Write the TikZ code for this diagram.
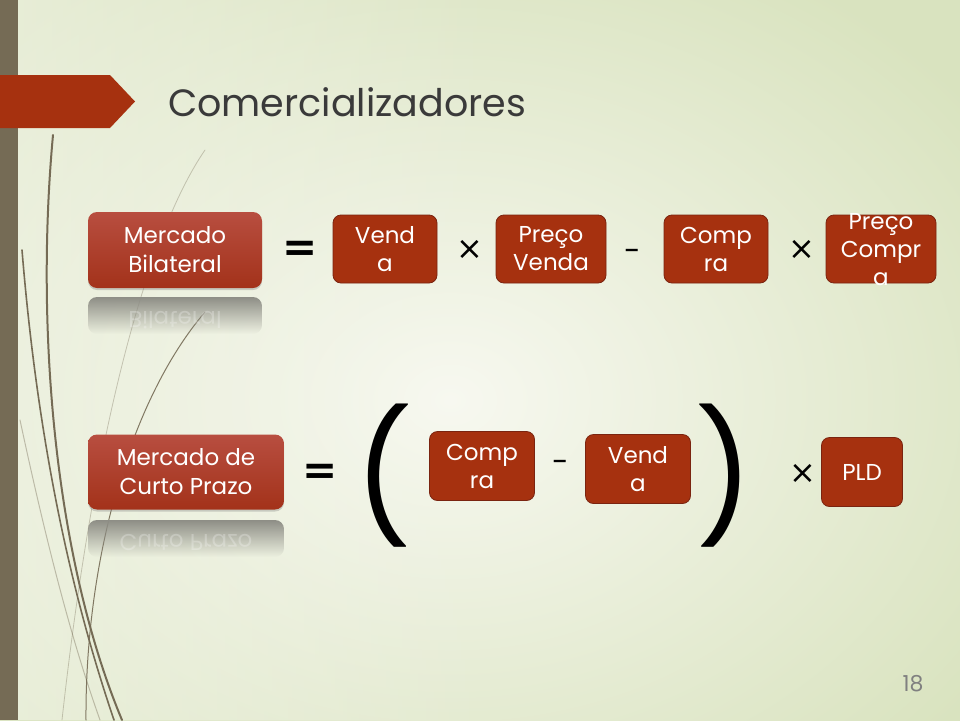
\documentclass[tikz,border=0pt]{standalone}
\usepackage{fontspec}
\setmainfont{Poppins}
\newfontfamily\symf{DejaVu Sans}
\usetikzlibrary{fadings,shadows}
\definecolor{bandc}{HTML}{756B55}
\definecolor{redc}{HTML}{A6310F}
\definecolor{redline}{HTML}{7A2410}
\definecolor{redtop}{HTML}{B84E40}
\definecolor{redbot}{HTML}{A3321A}
\definecolor{bgA}{HTML}{F7F8F0}
\definecolor{bgB}{HTML}{D9E3BF}
\definecolor{titlec}{HTML}{3A3A3A}
\definecolor{reflc}{HTML}{8E8E86}
\tikzset{
  eqbox/.style={rounded corners=8pt, fill=redc, draw=redline, line width=0.8pt,
    text=white, align=center, inner sep=0pt,
    font=\fontsize{23}{28}\selectfont},
  leftbox/.style={rounded corners=9pt, top color=redtop, bottom color=redbot,
    draw=none, text=white, align=center, inner sep=0pt,
    drop shadow={shadow xshift=0pt, shadow yshift=-2pt, opacity=0.35},
    font=\fontsize{23}{29}\selectfont},
  opsym/.style={inner sep=0pt, text=black},
  deco/.style={draw=bandc, line cap=round}
}
\begin{document}
\begin{tikzpicture}[x=1pt,y=-1pt]
\useasboundingbox (0,0) rectangle (960,720);
% background
\fill[inner color=bgA, outer color=bgB] (-200,-100) rectangle (1100,900);
\fill[bgA, opacity=0.5, path fading=east] (0,0) rectangle (500,720);
% decorative curves
\draw[deco, line width=2pt] (53,135) .. controls (35,330) and (55,560) .. (122,720);
\draw[deco, line width=1.6pt] (22,250) .. controls (40,470) and (80,620) .. (114,720);
\draw[deco, line width=1pt, opacity=0.9] (205,312) .. controls (130,400) and (85,560) .. (86,720);
\draw[deco, line width=0.8pt, opacity=0.35] (205,150) .. controls (150,230) and (95,420) .. (62,720);
\draw[deco, line width=1pt, opacity=0.4] (20,420) .. controls (50,560) and (75,650) .. (100,720);
% left band
\fill[bandc] (0,0) rectangle (18,720);
% title banner
\fill[redc] (0,75) -- (110,75) -- (135,101.5) -- (110,128) -- (0,128) -- cycle;
\node[anchor=west, text=titlec, font=\fontsize{38}{40}\selectfont, inner sep=0pt] (title) at (168,102) {Comercializadores};
% ---- row 1 ----
\node[leftbox, minimum width=174pt, minimum height=76pt] (mb) at (175,250) {Mercado\\Bilateral};
\begin{scope}
\clip[rounded corners=9pt] (88,297) rectangle (262,334);
\fill[reflc, path fading=south] (88,297) rectangle (262,334);
\node[text=white, opacity=0.25, font=\fontsize{23}{29}\selectfont, yscale=-1, transform shape] (mbr) at (175,320) {Bilateral};
\end{scope}
\node[opsym, font=\symf\bfseries\fontsize{42}{42}\selectfont] (eq1) at (300,251) {=};
\node[eqbox, minimum width=104pt, minimum height=68pt] (v1) at (385,249) {Vend\\a};
\node[opsym, font=\symf\fontsize{32}{32}\selectfont] (x1) at (470,250) {×};
\node[eqbox, minimum width=110pt, minimum height=68pt] (pv) at (551,249) {Preço\\Venda};
\node[opsym, font=\fontsize{30}{30}\selectfont] (m1) at (633,255) {-};
\node[eqbox, minimum width=104pt, minimum height=68pt] (c1) at (716,249) {Comp\\ra};
\node[opsym, font=\symf\fontsize{32}{32}\selectfont] (x2) at (802,250) {×};
\node[eqbox, minimum width=110pt, minimum height=68pt] (pc) at (881,249) {};
\node[text=white, align=center, inner sep=0pt, font=\fontsize{23}{28}\selectfont] (pct) at (881,250) {Preço\\Compr\\a};
% ---- row 2 ----
\node[leftbox, minimum width=196pt, minimum height=75pt] (mc) at (186,472) {Mercado de\\Curto Prazo};
\begin{scope}
\clip[rounded corners=9pt] (88,520) rectangle (284,557);
\fill[reflc, path fading=south] (88,520) rectangle (284,557);
\node[text=white, opacity=0.25, font=\fontsize{23}{29}\selectfont, yscale=-1, transform shape] (mcr) at (186,543) {Curto Prazo};
\end{scope}
\node[opsym, font=\symf\bfseries\fontsize{42}{42}\selectfont] (eq2) at (320,474) {=};
\node[opsym, font=\fontsize{128}{128}\selectfont] (lp) at (384,476) {(};
\node[eqbox, minimum width=105pt, minimum height=69pt] (c2) at (482,466) {Comp\\ra};
\node[opsym, font=\fontsize{30}{30}\selectfont] (m2) at (561,466) {-};
\node[eqbox, minimum width=105pt, minimum height=69pt] (v2) at (638,469) {Vend\\a};
\node[opsym, font=\fontsize{128}{128}\selectfont] (rp) at (725,476) {)};
\node[opsym, font=\symf\fontsize{32}{32}\selectfont] (x3) at (803,474) {×};
\node[eqbox, minimum width=81pt, minimum height=69pt] (pld) at (862,472) {PLD};
% page number
\node[text=gray, font=\fontsize{22}{22}\selectfont, inner sep=0pt] (pg) at (913,684) {18};
\end{tikzpicture}
\end{document}
